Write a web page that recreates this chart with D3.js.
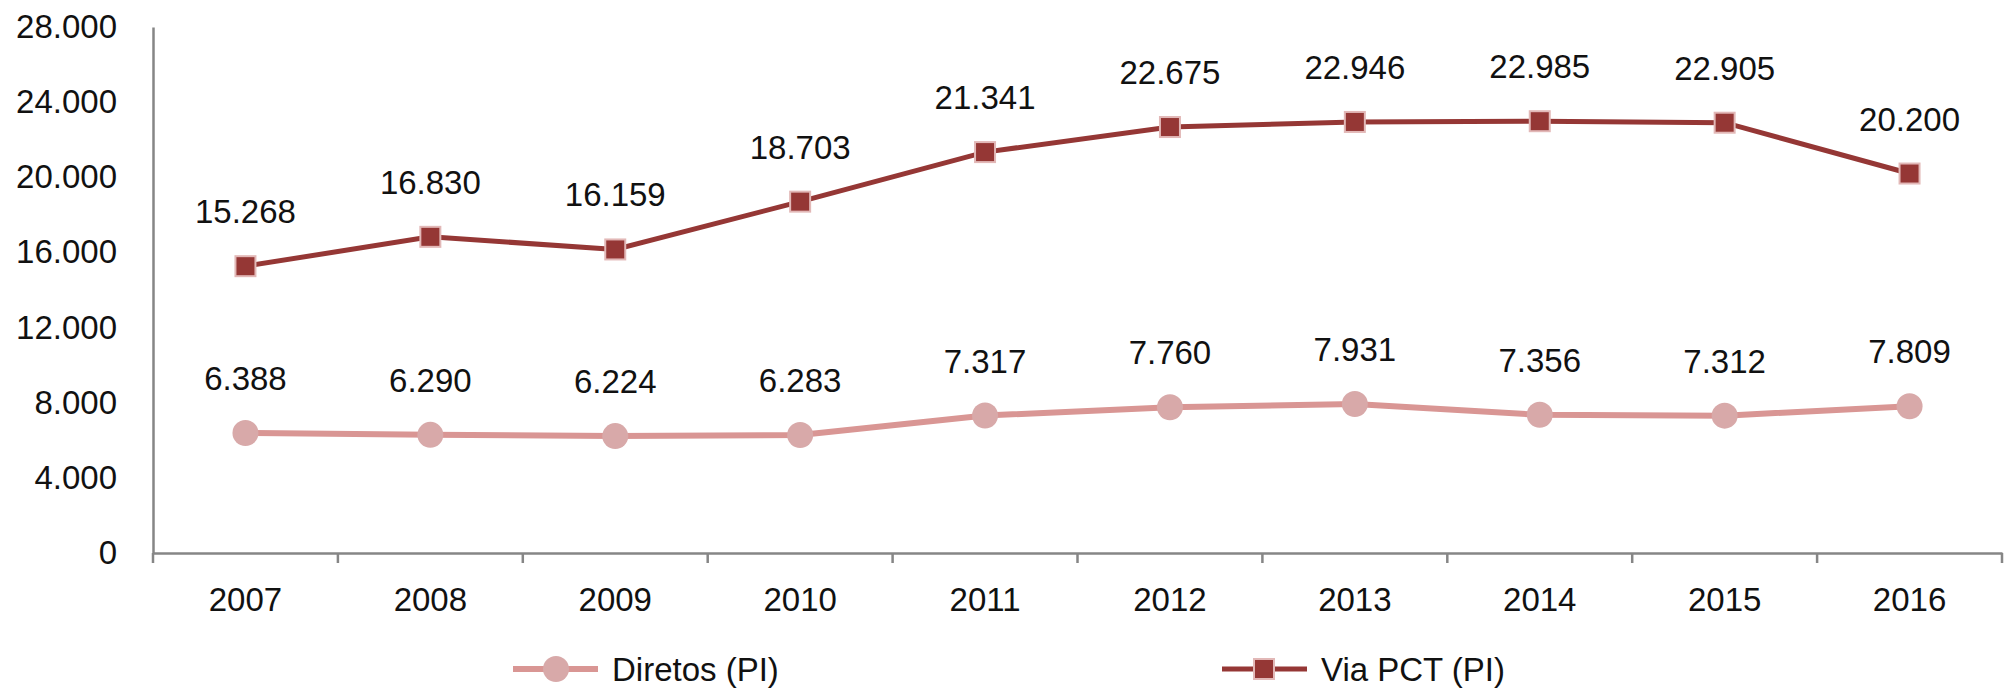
<!DOCTYPE html>
<html>
<head>
<meta charset="utf-8">
<script src="https://cdn.jsdelivr.net/npm/d3@7"></script>
<style>
  body { margin: 0; background: #fff; }
  text { font-family: "Liberation Sans", Arial, sans-serif; fill: #111; }
</style>
</head>
<body>
<div id="chart"></div>
<script>
// dados do grafico
var anos = ["2007","2008","2009","2010","2011","2012","2013","2014","2015","2016"];
var diretos = [6388, 6290, 6224, 6283, 7317, 7760, 7931, 7356, 7312, 7809];
var viaPct = [15268, 16830, 16159, 18703, 21341, 22675, 22946, 22985, 22905, 20200];
var yTicks = [0, 4000, 8000, 12000, 16000, 20000, 24000, 28000];
var nomes = ["Diretos (PI)", "Via PCT (PI)"];

var width = 2011, height = 692;
var margin = {top: 27, right: 9, bottom: 139, left: 153};
var fs = "33px";

var br = d3.formatLocale({decimal: ",", thousands: ".", grouping: [3], currency: ["", ""]});
var fmt = br.format(",d");

var svg = d3.select("#chart").append("svg")
  .attr("width", width)
  .attr("height", height);

var x = d3.scaleBand()
  .domain(anos)
  .range([margin.left, width - margin.right]);

var y = d3.scaleLinear()
  .domain([0, 28000])
  .range([height - margin.bottom, margin.top]);

var cx = function(d, i) { return x(anos[i]) + x.bandwidth() / 2; };

// eixo y (sem marcas)
var yAxis = svg.append("g")
  .attr("transform", "translate(" + margin.left + ",0)")
  .call(d3.axisLeft(y).tickValues(yTicks).tickFormat(fmt).tickSize(0).tickPadding(36));
yAxis.select(".domain").attr("stroke", "#868686").attr("stroke-width", 2.5);
yAxis.selectAll("text").style("font-size", fs).attr("fill", "#111");

// eixo x com marcas entre as categorias
var xAxis = svg.append("g")
  .attr("transform", "translate(0," + y(0) + ")")
  .call(d3.axisBottom(x).tickSize(0).tickPadding(35));
xAxis.select(".domain").attr("stroke", "#868686").attr("stroke-width", 2.5);
xAxis.selectAll("text").style("font-size", fs).attr("fill", "#111");
xAxis.selectAll(".sep")
  .data(d3.range(anos.length + 1))
  .enter().append("line")
  .attr("x1", function(i) { return margin.left + i * x.bandwidth(); })
  .attr("x2", function(i) { return margin.left + i * x.bandwidth(); })
  .attr("y1", 0).attr("y2", 10)
  .attr("stroke", "#868686").attr("stroke-width", 2.5);

var line = d3.line()
  .x(cx)
  .y(function(d) { return y(d); });

// serie diretos
svg.append("path")
  .datum(diretos)
  .attr("d", line)
  .attr("fill", "none")
  .attr("stroke", "#D99694")
  .attr("stroke-width", 6);
svg.selectAll(".circ")
  .data(diretos)
  .enter().append("circle")
  .attr("cx", cx)
  .attr("cy", function(d) { return y(d); })
  .attr("r", 13)
  .attr("fill", "#D8A9A9");

// serie via PCT
svg.append("path")
  .datum(viaPct)
  .attr("d", line)
  .attr("fill", "none")
  .attr("stroke", "#953735")
  .attr("stroke-width", 5);
svg.selectAll(".sq")
  .data(viaPct)
  .enter().append("rect")
  .attr("x", function(d, i) { return cx(d, i) - 10; })
  .attr("y", function(d) { return y(d) - 10; })
  .attr("width", 20).attr("height", 20)
  .attr("fill", "#953735")
  .attr("stroke", "#E2B8B7")
  .attr("stroke-width", 2);

// rotulos
[diretos, viaPct].forEach(function(serie) {
  svg.append("g").selectAll("text")
    .data(serie)
    .enter().append("text")
    .attr("x", cx)
    .attr("y", function(d) { return y(d) - 43; })
    .attr("text-anchor", "middle")
    .style("font-size", fs)
    .text(fmt);
});

// legenda
var ly = 669;
var leg1 = svg.append("g");
leg1.append("line").attr("x1", 513).attr("x2", 598).attr("y1", ly).attr("y2", ly)
  .attr("stroke", "#D99694").attr("stroke-width", 6);
leg1.append("circle").attr("cx", 556).attr("cy", ly).attr("r", 13).attr("fill", "#D8A9A9");
leg1.append("text").attr("x", 612).attr("y", ly + 12).style("font-size", fs).text(nomes[0]);

var leg2 = svg.append("g");
leg2.append("line").attr("x1", 1222).attr("x2", 1307).attr("y1", ly).attr("y2", ly)
  .attr("stroke", "#953735").attr("stroke-width", 5);
leg2.append("rect").attr("x", 1254).attr("y", ly - 10).attr("width", 20).attr("height", 20)
  .attr("fill", "#953735").attr("stroke", "#E2B8B7").attr("stroke-width", 2);
leg2.append("text").attr("x", 1321).attr("y", ly + 12).style("font-size", fs).text(nomes[1]);
</script>
</body>
</html>
